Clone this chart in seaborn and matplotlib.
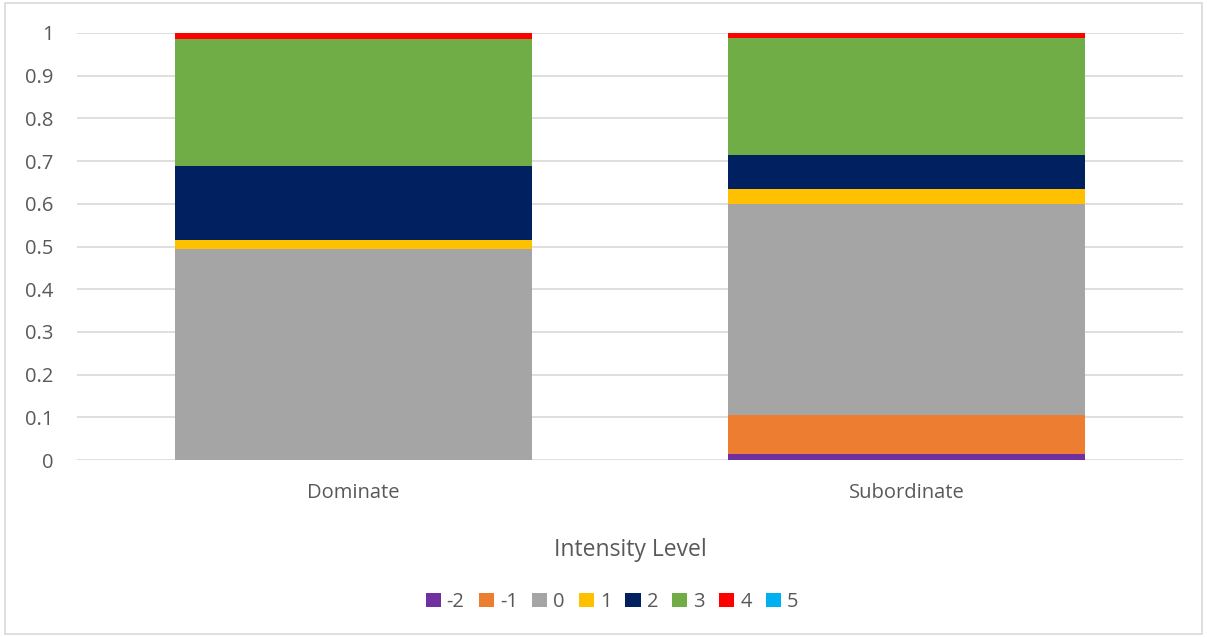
import matplotlib
matplotlib.use("Agg")
import matplotlib.pyplot as plt
import matplotlib.patches as mpatches
import numpy as np
import pandas as pd
import seaborn as sns

# Share of observations at each intensity level, per group
groups = ["Dominate", "Subordinate"]
levels = ["-2", "-1", "0", "1", "2", "3", "4", "5"]
dominate = [0.0, 0.0, 0.493, 0.022, 0.174, 0.296, 0.015, 0.0]
subordinate = [0.015, 0.091, 0.494, 0.034, 0.081, 0.274, 0.011, 0.0]
colors = ["#7030A0", "#ED7D31", "#A5A5A5", "#FFC000",
          "#002060", "#70AD47", "#FF0000", "#00B0F0"]
yticks = [0, 0.1, 0.2, 0.3, 0.4, 0.5, 0.6, 0.7, 0.8, 0.9, 1]
ytick_labels = ["0", "0.1", "0.2", "0.3", "0.4", "0.5", "0.6", "0.7", "0.8", "0.9", "1"]

sns.set_theme(style="white")
plt.rcParams["font.family"] = ["Open Sans", "DejaVu Sans"]

text_color = "#595959"
grid_color = "#D9D9D9"

df = pd.DataFrame({"group": np.repeat(groups, len(levels)),
                   "level": levels * len(groups),
                   "share": dominate + subordinate})
df["cum"] = df.groupby("group")["share"].cumsum()

fig = plt.figure(figsize=(12.07, 6.37), dpi=100)
ax = fig.add_axes([77 / 1207, 1 - 460 / 637, 1106 / 1207, 427 / 637])

# Stacked bars: draw cumulative totals from the top level down
for lvl, col in reversed(list(zip(levels, colors))):
    sub = df[df["level"] == lvl]
    sns.barplot(data=sub, x="group", y="cum", order=groups, color=col,
                width=0.645, saturation=1, linewidth=0, ax=ax, zorder=3)

ax.set_ylim(0, 1)
ax.set_xlim(-0.5, 1.5)
ax.set_yticks(yticks)
ax.set_yticklabels(ytick_labels)
ax.yaxis.grid(True, color=grid_color, linewidth=1.2, zorder=0)
ax.set_axisbelow(True)
for s in ax.spines.values():
    s.set_visible(False)
ax.tick_params(axis="y", length=0, pad=17, labelsize=14.5, labelcolor=text_color)
ax.tick_params(axis="x", length=0, pad=16.5, labelsize=14.5, labelcolor=text_color)
ax.set_ylabel("")
ax.set_xlabel("Intensity Level", fontsize=16.5, color=text_color, labelpad=25)

handles = [mpatches.Patch(facecolor=c, edgecolor="none", label=l)
           for l, c in zip(levels, colors)]
fig.legend(handles=handles, loc="center", bbox_to_anchor=(612 / 1207, 1 - 602 / 637),
           ncol=len(levels), frameon=False, fontsize=14.5, labelcolor=text_color,
           handlelength=0.75, handleheight=0.75, handletextpad=0.3, columnspacing=0.7)

# Light outline around the whole chart
fig.patches.append(mpatches.Rectangle((0.004, 0.004), 0.992, 0.992, transform=fig.transFigure,
                                      fill=False, edgecolor=grid_color, linewidth=1.2))

fig.savefig("out.png", dpi=100, facecolor="white")
